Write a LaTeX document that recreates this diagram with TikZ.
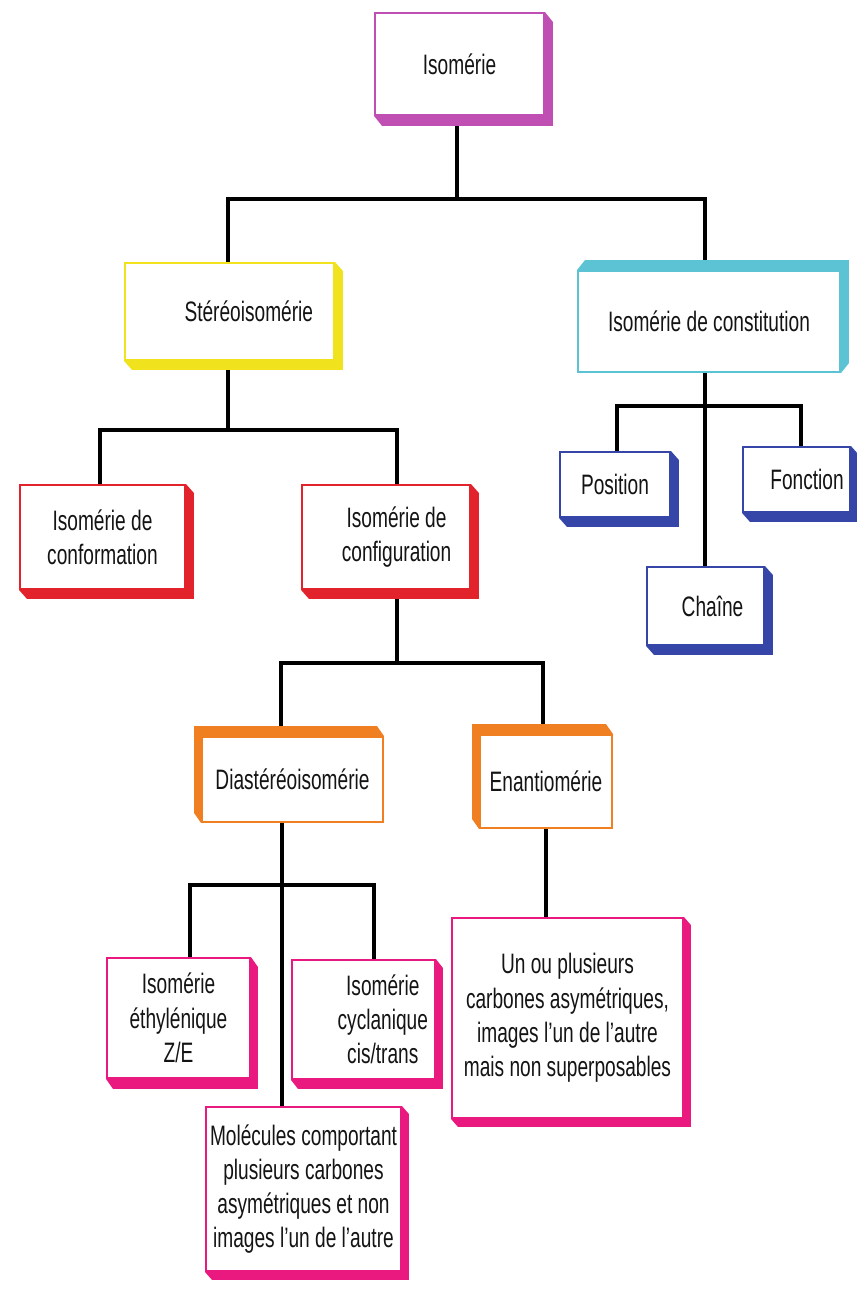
\documentclass[tikz,border=0pt]{standalone}
\usepackage{fontspec}
\setmainfont{Liberation Sans}[FakeStretch=0.68]
\usetikzlibrary{backgrounds}
\definecolor{isoviolet}{HTML}{C04FB4}
\definecolor{stereoyellow}{HTML}{F0E21C}
\definecolor{constcyan}{HTML}{5BC3D3}
\definecolor{constblue}{HTML}{3545A8}
\definecolor{confred}{HTML}{E3232C}
\definecolor{diastorange}{HTML}{F07F22}
\definecolor{enantpink}{HTML}{E9197F}

\begin{document}
\begin{tikzpicture}[x=0.02cm, y=-0.02cm,
  box/.style={draw=#1, fill=white, line width=1.1pt, align=center, inner sep=2pt,
              text=black!92, font=\fontsize{16}{19.5}\selectfont},
  boxsize/.style 2 args={minimum width=#1*0.02cm, minimum height=#2*0.02cm},
  link/.style={line width=2pt, draw=black}
]
\useasboundingbox (0,0) rectangle (856,1292);

% top levels
\node[box=isoviolet, boxsize={169}{102}] (iso) at (459.5,64) {Isomérie};
\node[box=stereoyellow, boxsize={209}{97}] (stereo) at (229.5,311.5) {\hspace*{22pt}Stéréoisomérie};
\node[box=constcyan, boxsize={262}{101}] (const) at (709,321.5) {Isomérie de constitution};

% constitution branch
\node[box=constblue, boxsize={110}{65}] (pos) at (615,484.5) {Position};
\node[box=constblue, boxsize={107}{65}] (fonc) at (796.5,479.5) {\hspace*{12pt}Fonction};
\node[box=constblue, boxsize={117}{78}] (chaine) at (705.5,606) {\hspace*{8pt}Chaîne};

% stereo branch
\node[box=confred, boxsize={165}{104}] (conf) at (102.5,537) {Isomérie de\\conformation};
\node[box=confred, boxsize={168}{104}] (config) at (386,537) {\hspace*{12pt}Isomérie de\\\hspace*{12pt}configuration};
\node[box=diastorange, boxsize={181}{85}] (diast) at (292.5,779.5) {Diastéréoisomérie};
\node[box=diastorange, boxsize={132}{93}] (enant) at (546,781.5) {Enantiomérie};

% bottom level
\node[box=enantpink, boxsize={143}{120}] (ethyl) at (178.5,1018) {Isomérie\\éthylénique\\Z/E};
\node[box=enantpink, boxsize={143}{119}] (cycl) at (363.5,1019.5)
  {\hspace*{22pt}Isomérie\\\hspace*{22pt}cyclanique\\\hspace*{22pt}cis/trans};
\node[box=enantpink, boxsize={195}{164}] (molec) at (303.5,1189)
  {Molécules comportant\\plusieurs carbones\\asymétriques et non\\images l'un de l'autre};
\node[box=enantpink, boxsize={231}{200}] (unou) at (567.5,1018)
  {Un ou plusieurs\\carbones asymétriques,\\images l'un de l'autre\\mais non superposables};

% bus junctions
\coordinate (b1) at (457,199);  \coordinate (b1l) at (228,199);  \coordinate (b1r) at (705,199);
\coordinate (b2) at (228,430);  \coordinate (b2l) at (100,430);  \coordinate (b2r) at (397,430);
\coordinate (b3) at (397,663);  \coordinate (b3l) at (281,663);  \coordinate (b3r) at (543,663);
\coordinate (b4) at (282,885);  \coordinate (b4l) at (190,885);  \coordinate (b4r) at (374,885);
\coordinate (b5) at (705,406);  \coordinate (b5l) at (617,406);  \coordinate (b5r) at (801,406);

\begin{scope}[on background layer]
  \draw[link] (b1 |- iso.south) -- (b1);
  \draw[link] (b1l |- stereo.north) -- (b1l) -- (b1r) -- (b1r |- const.north);

  \draw[link] (b2 |- stereo.south) -- (b2);
  \draw[link] (b2l |- conf.north) -- (b2l) -- (b2r) -- (b2r |- config.north);

  \draw[link] (b3 |- config.south) -- (b3);
  \draw[link] (b3l |- diast.north) -- (b3l) -- (b3r) -- (b3r |- enant.north);

  \draw[link] (b4 |- diast.south) -- (b4 |- molec.north);
  \draw[link] (b4l |- ethyl.north) -- (b4l) -- (b4r) -- (b4r |- cycl.north);

  \draw[link] (b5 |- const.south) -- (b5 |- chaine.north);
  \draw[link] (b5l |- pos.north) -- (b5l) -- (b5r) -- (b5r |- fonc.north);

  \draw[link] (enant.south) -- (enant.south |- unou.north);

  % box depth
  \foreach \n/\col/\pa/\pb/\pc/\pd/\sx/\sy in {
      iso/isoviolet/north west/north east/south east/south west/8/10,
      stereo/stereoyellow/north west/north east/south east/south west/8/9,
      const/constcyan/south west/north west/north east/south east/8/-10,
      pos/constblue/north west/north east/south east/south west/8/9,
      fonc/constblue/north west/north east/south east/south west/8/9,
      chaine/constblue/north west/north east/south east/south west/8/9,
      conf/confred/north west/north east/south east/south west/8/9,
      config/confred/north west/north east/south east/south west/8/9,
      diast/diastorange/south east/south west/north west/north east/-7/-10,
      enant/diastorange/south east/south west/north west/north east/-7/-10,
      ethyl/enantpink/north west/north east/south east/south west/7/10,
      cycl/enantpink/north west/north east/south east/south west/7/9,
      molec/enantpink/north west/north east/south east/south west/7/8,
      unou/enantpink/north west/north east/south east/south west/7/8}
    \fill[\col] (\n.\pa) -- (\n.\pb) -- ([shift={(\sx,\sy)}]\n.\pb)
      -- ([shift={(\sx,\sy)}]\n.\pc) -- ([shift={(\sx,\sy)}]\n.\pd) -- (\n.\pd) -- cycle;
\end{scope}
\end{tikzpicture}
\end{document}
